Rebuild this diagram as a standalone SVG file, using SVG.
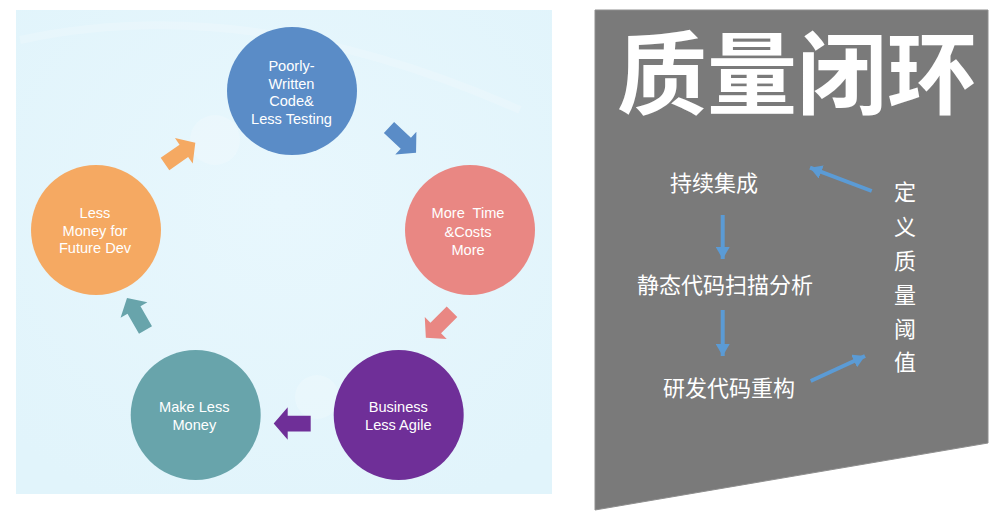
<svg xmlns="http://www.w3.org/2000/svg" width="1000" height="514" viewBox="0 0 1000 514">
<defs>
<style>
.lbl{font-family:"Liberation Sans",Arial,sans-serif;font-size:14.6px;fill:#ffffff;text-anchor:middle}
.cn{font-family:"Noto Sans CJK SC",sans-serif;font-size:22px;fill:#ffffff;text-anchor:middle}
.link{stroke:#5b9bd5;stroke-width:4;fill:none;marker-end:url(#ah)}
.deco{fill:#ffffff;opacity:0.2}
</style>
<marker id="ah" markerUnits="userSpaceOnUse" markerWidth="14" markerHeight="14" refX="12" refY="7" orient="auto">
<path d="M0,0 L12,7 L0,14 Z" fill="#5b9bd5"/>
</marker>
<polygon id="blk" points="0,-7.5 23,-7.5 23,-15.5 37,0 23,15.5 23,7.5 0,7.5"/>
<radialGradient id="bg" cx="0.5" cy="0.4" r="0.7">
<stop offset="0" stop-color="#e8f7fd"/>
<stop offset="1" stop-color="#e1f4fb"/>
</radialGradient>
</defs>
<rect x="0" y="0" width="1000" height="514" fill="#ffffff"/>
<g id="left-panel">
<rect x="16" y="10" width="536" height="484" fill="url(#bg)"/>
<circle class="deco" cx="317" cy="397" r="22"/>
<circle class="deco" cx="215" cy="140" r="25"/>
<path d="M20,40 Q250,-10 520,110" stroke="#ffffff" stroke-opacity="0.18" stroke-width="8" fill="none"/>
</g>
<g id="right-panel">
<polygon points="595,10 988,10 988,443 595,510" fill="#7a7a7a" stroke="#8e8e8e" stroke-width="1"/>
<text x="797" y="107" font-family="'Noto Sans CJK SC',sans-serif" font-size="90" font-weight="700" fill="#ffffff" text-anchor="middle">质量闭环</text>
</g>
<g id="connectors">
<use href="#blk" transform="translate(389,127.5) rotate(43)" fill="#5a8cc7"/>
<use href="#blk" transform="translate(452,311.7) rotate(135)" fill="#e98783"/>
<use href="#blk" transform="translate(310.7,423.5) rotate(180) scale(1,1.05)" fill="#6f2f98"/>
<use href="#blk" transform="translate(145.5,330) rotate(-120)" fill="#68a4ab"/>
<use href="#blk" transform="translate(165,164) rotate(-35)" fill="#f5a962"/>
<line class="link" x1="722.7" y1="215" x2="722.7" y2="259"/>
<line class="link" x1="722.7" y1="310" x2="722.7" y2="356"/>
<line class="link" x1="810.7" y1="381" x2="865" y2="356"/>
<line class="link" x1="871.7" y1="191" x2="810" y2="167.7"/>
</g>
<g id="node-poorly">
<ellipse cx="292" cy="91" rx="65" ry="64" fill="#5a8cc7"/>
<text class="lbl" x="291.5" y="70.5">Poorly-</text>
<text class="lbl" x="291.5" y="89">Written</text>
<text class="lbl" x="291.5" y="106">Code&amp;</text>
<text class="lbl" x="291.5" y="123.5">Less Testing</text>
</g>
<g id="node-moretime">
<ellipse cx="470" cy="230" rx="65" ry="65" fill="#e98783"/>
<text class="lbl" x="468" y="218" xml:space="preserve">More  Time</text>
<text class="lbl" x="468" y="237">&amp;Costs</text>
<text class="lbl" x="468" y="255">More</text>
</g>
<g id="node-business">
<ellipse cx="398.7" cy="415" rx="65" ry="65" fill="#6f2f98"/>
<text class="lbl" x="398.3" y="412">Business</text>
<text class="lbl" x="398.3" y="430">Less Agile</text>
</g>
<g id="node-makeless">
<ellipse cx="195.7" cy="415" rx="65" ry="65" fill="#68a4ab"/>
<text class="lbl" x="194.3" y="412">Make Less</text>
<text class="lbl" x="194.3" y="430">Money</text>
</g>
<g id="node-lessmoney">
<ellipse cx="96" cy="230" rx="65" ry="65" fill="#f5a962"/>
<text class="lbl" x="95" y="218">Less</text>
<text class="lbl" x="95" y="236">Money for</text>
<text class="lbl" x="95" y="253">Future Dev</text>
</g>
<g id="node-ci"><text class="cn" x="714" y="191">持续集成</text></g>
<g id="node-static"><text class="cn" x="725" y="293">静态代码扫描分析</text></g>
<g id="node-refactor"><text class="cn" x="729" y="395.5">研发代码重构</text></g>
<g id="node-threshold">
<text class="cn" x="905" y="200">定</text>
<text class="cn" x="905" y="235">义</text>
<text class="cn" x="905" y="269">质</text>
<text class="cn" x="905" y="303">量</text>
<text class="cn" x="905" y="337">阈</text>
<text class="cn" x="905" y="370">值</text>
</g>
</svg>
